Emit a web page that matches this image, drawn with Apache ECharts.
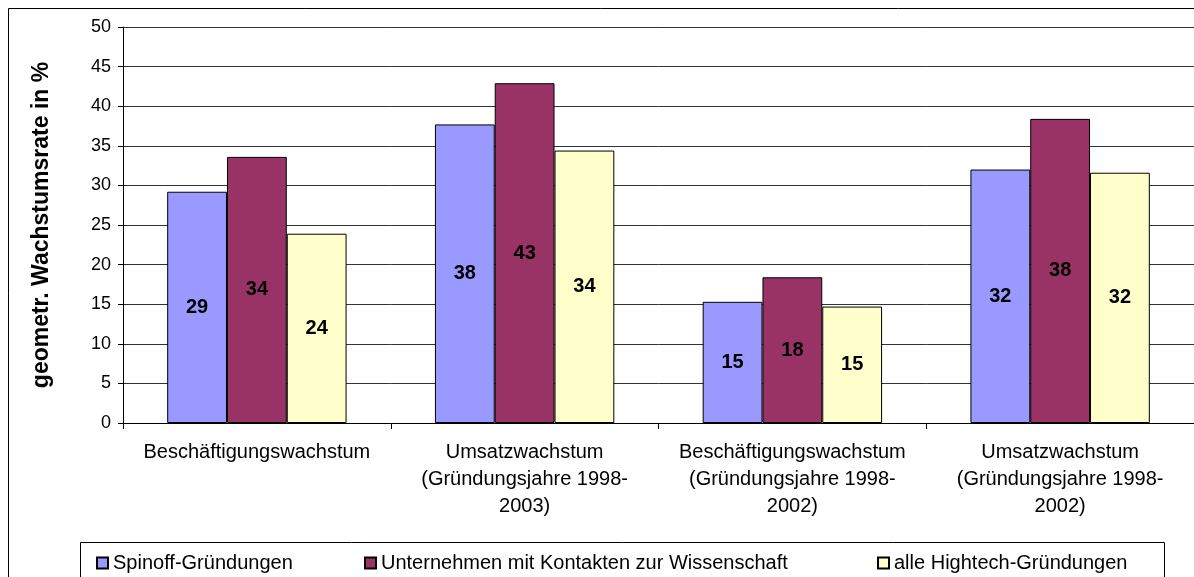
<!DOCTYPE html>
<html>
<head>
<meta charset="utf-8">
<script src="https://cdn.jsdelivr.net/npm/echarts@6/dist/echarts.min.js"></script>
<style>
    html, body { margin: 0; padding: 0; background: #fff; }
    #chart { width: 1194px; height: 577px; }
</style>
</head>
<body>
<div id="chart"></div>
<script>
// categories on the x axis
const categories = [
    'Beschäftigungswachstum',
    'Umsatzwachstum\n(Gründungsjahre 1998-\n2003)',
    'Beschäftigungswachstum\n(Gründungsjahre 1998-\n2002)',
    'Umsatzwachstum\n(Gründungsjahre 1998-\n2002)'
];

// series names
const seriesNames = [
    'Spinoff-Gründungen',
    'Unternehmen mit Kontakten zur Wissenschaft',
    'alle Hightech-Gründungen'
];

// values (%)
const spinoffValues = [29.2, 37.7, 15.3, 32.0];
const kontaktValues = [33.6, 42.9, 18.4, 38.4];
const hightechValues = [23.9, 34.4, 14.7, 31.6];

const yTicks = { min: 0, max: 50, interval: 5 };

const colors = ['#9999FF', '#993366', '#FFFFCC'];
const FONT = "'Liberation Sans', Arial, sans-serif";

const chart = echarts.init(document.getElementById('chart'), null, { renderer: 'canvas' });

const makeSeries = (name, data, color) => ({
    name: name,
    type: 'bar',
    data: data,
    barGap: 0,
    barCategoryGap: '33%',
    itemStyle: { color: color, borderColor: '#000', borderWidth: 1 },
    label: {
        show: true,
        position: 'inside',
        color: '#000',
        fontFamily: FONT,
        fontWeight: 'bold',
        fontSize: 20,
        formatter: (p) => String(Math.round(p.value))
    },
    emphasis: { disabled: true },
    animation: false
});

// one legend per entry so each sits where it sits in the original
const legendLeft = [91, 359, 872];
const legends = seriesNames.map((n, i) => ({
    data: [n],
    left: legendLeft[i],
    top: 548,
    itemWidth: 11,
    itemHeight: 11,
    icon: 'rect',
    selectedMode: false,
    textStyle: { fontFamily: FONT, fontSize: 20, color: '#000', lineHeight: 20 }
}));

const option = {
    backgroundColor: '#fff',
    animation: false,
    legend: legends,
    grid: { left: 123, top: 27, width: 1072, height: 396, containLabel: false },
    xAxis: {
        type: 'category',
        data: categories,
        axisLine: { lineStyle: { color: '#000', width: 1 } },
        axisTick: { show: true, length: 6, lineStyle: { color: '#000' } },
        axisLabel: {
            color: '#000',
            fontFamily: FONT,
            fontSize: 20,
            lineHeight: 27,
            margin: 16,
            interval: 0,
            align: 'center'
        }
    },
    yAxis: {
        type: 'value',
        min: yTicks.min,
        max: yTicks.max,
        interval: yTicks.interval,
        name: 'geometr. Wachstumsrate in %',
        nameLocation: 'middle',
        nameGap: 70,
        nameTextStyle: { fontFamily: FONT, fontWeight: 'bold', fontSize: 23, color: '#000' },
        axisLine: { show: true, lineStyle: { color: '#000', width: 1 } },
        axisTick: { show: true, length: 5, lineStyle: { color: '#000' } },
        axisLabel: { color: '#000', fontFamily: FONT, fontSize: 18, margin: 12 },
        splitLine: { show: true, lineStyle: { color: '#333', width: 1 } }
    },
    series: [
        makeSeries(seriesNames[0], spinoffValues, colors[0]),
        makeSeries(seriesNames[1], kontaktValues, colors[1]),
        makeSeries(seriesNames[2], hightechValues, colors[2])
    ],
    graphic: [
        // outer chart frame
        {
            type: 'rect',
            silent: true,
            shape: { x: 8.5, y: 8.5, width: 1200, height: 600 },
            style: { fill: null, stroke: '#000', lineWidth: 1 }
        },
        // legend frame
        {
            type: 'rect',
            silent: true,
            shape: { x: 80.5, y: 542.5, width: 1084, height: 60 },
            style: { fill: null, stroke: '#000', lineWidth: 1 }
        }
    ]
};

chart.setOption(option);
</script>
</body>
</html>
